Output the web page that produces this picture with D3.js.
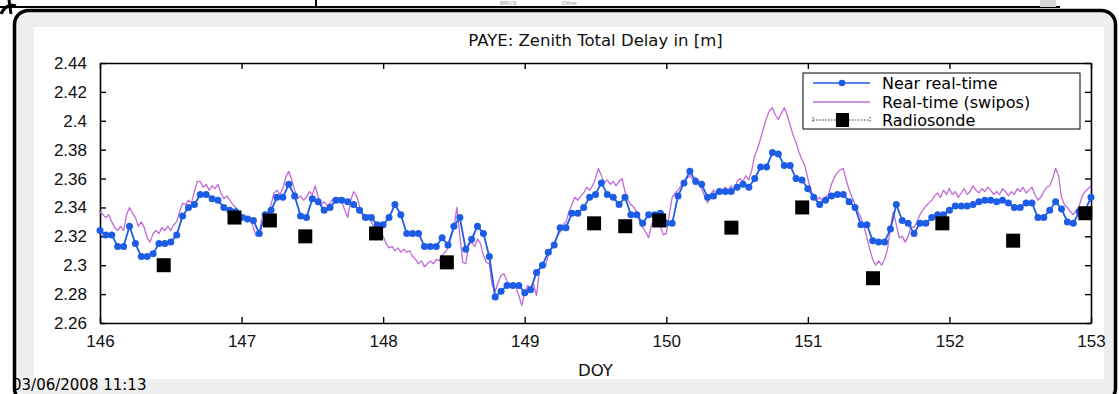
<!DOCTYPE html>
<html>
<head>
<meta charset="utf-8">
<script src="https://cdn.jsdelivr.net/npm/d3@7"></script>
<style>
	body { margin: 0; background: #fff; }
	svg { display: block; }
</style>
</head>
<body>
<svg id="chart" width="1119" height="394"></svg>
<script>
// hourly near real-time ZTD, starting at DOY 146.0
const nrtStart = 146
const nrtStep = 1 / 24
const nrtValues = [
	2.324, 2.321, 2.321, 2.313, 2.313, 2.327, 2.315, 2.306, 2.306, 2.308, 2.315, 2.315, 2.316, 2.321, 2.334, 2.340, 2.342, 2.349, 2.349, 2.346, 2.345, 2.340, 2.338, 2.337,
	2.333, 2.332, 2.331, 2.322, 2.335, 2.338, 2.347, 2.347, 2.356, 2.348, 2.334, 2.333, 2.346, 2.344, 2.338, 2.340, 2.345, 2.345, 2.344, 2.342, 2.338, 2.333, 2.333, 2.328,
	2.328, 2.333, 2.342, 2.335, 2.322, 2.322, 2.322, 2.313, 2.313, 2.313, 2.319, 2.314, 2.327, 2.333, 2.311, 2.318, 2.327, 2.322, 2.306, 2.278, 2.282, 2.286, 2.286, 2.286,
	2.281, 2.283, 2.295, 2.300, 2.309, 2.314, 2.326, 2.326, 2.336, 2.336, 2.340, 2.347, 2.349, 2.357, 2.349, 2.347, 2.342, 2.347, 2.335, 2.335, 2.329, 2.335, 2.335, 2.336,
	2.329, 2.329, 2.348, 2.357, 2.365, 2.358, 2.356, 2.347, 2.348, 2.351, 2.351, 2.351, 2.354, 2.356, 2.354, 2.360, 2.368, 2.368, 2.378, 2.377, 2.369, 2.369, 2.360, 2.359,
	2.353, 2.347, 2.342, 2.345, 2.348, 2.349, 2.349, 2.344, 2.340, 2.328, 2.328, 2.317, 2.316, 2.316, 2.325, 2.342, 2.331, 2.329, 2.322, 2.329, 2.329, 2.333, 2.335, 2.335,
	2.338, 2.341, 2.341, 2.341, 2.342, 2.344, 2.345, 2.345, 2.344, 2.345, 2.343, 2.340, 2.340, 2.343, 2.343, 2.333, 2.333, 2.338, 2.344, 2.339, 2.330, 2.329, 2.337, 2.338,
	2.347
]

// half-hourly real-time (swipos) ZTD
const rtStart = 146
const rtStep = 1 / 48
const rtValues = [
	2.337, 2.335, 2.333, 2.335, 2.330, 2.326, 2.324, 2.327, 2.324, 2.335, 2.340, 2.336, 2.333, 2.327, 2.330, 2.326, 2.319, 2.316, 2.322, 2.324, 2.322, 2.326, 2.324, 2.327,
	2.324, 2.328, 2.330, 2.337, 2.343, 2.342, 2.345, 2.343, 2.351, 2.358, 2.358, 2.354, 2.356, 2.352, 2.355, 2.353, 2.356, 2.350, 2.346, 2.348, 2.345, 2.342, 2.340, 2.337,
	2.333, 2.335, 2.331, 2.333, 2.326, 2.320, 2.323, 2.333, 2.337, 2.335, 2.342, 2.350, 2.352, 2.349, 2.353, 2.361, 2.365, 2.359, 2.352, 2.346, 2.348, 2.345, 2.347, 2.351,
	2.349, 2.355, 2.347, 2.342, 2.344, 2.341, 2.343, 2.346, 2.344, 2.347, 2.344, 2.338, 2.333, 2.345, 2.351, 2.348, 2.341, 2.335, 2.333, 2.335, 2.330, 2.326, 2.322, 2.323,
	2.320, 2.315, 2.312, 2.313, 2.310, 2.312, 2.309, 2.311, 2.309, 2.310, 2.306, 2.304, 2.301, 2.303, 2.299, 2.301, 2.303, 2.301, 2.304, 2.303, 2.307, 2.309, 2.312, 2.319,
	2.326, 2.340, 2.321, 2.302, 2.301, 2.314, 2.316, 2.313, 2.318, 2.315, 2.307, 2.302, 2.301, 2.286, 2.282, 2.288, 2.293, 2.294, 2.289, 2.285, 2.288, 2.285, 2.279, 2.272,
	2.281, 2.286, 2.284, 2.287, 2.279, 2.297, 2.300, 2.299, 2.307, 2.311, 2.315, 2.320, 2.323, 2.328, 2.330, 2.337, 2.342, 2.347, 2.345, 2.348, 2.350, 2.354, 2.352, 2.355,
	2.360, 2.367, 2.362, 2.357, 2.359, 2.356, 2.358, 2.355, 2.358, 2.360, 2.351, 2.345, 2.342, 2.340, 2.337, 2.330, 2.326, 2.323, 2.319, 2.328, 2.333, 2.331, 2.327, 2.321,
	2.322, 2.335, 2.347, 2.350, 2.352, 2.355, 2.358, 2.360, 2.362, 2.359, 2.361, 2.357, 2.353, 2.348, 2.343, 2.349, 2.352, 2.350, 2.353, 2.351, 2.354, 2.352, 2.355, 2.352,
	2.358, 2.360, 2.358, 2.362, 2.359, 2.366, 2.376, 2.381, 2.388, 2.395, 2.402, 2.407, 2.409, 2.404, 2.401, 2.405, 2.409, 2.404, 2.397, 2.390, 2.385, 2.378, 2.373, 2.369,
	2.360, 2.352, 2.348, 2.345, 2.347, 2.344, 2.347, 2.349, 2.356, 2.361, 2.364, 2.366, 2.367, 2.359, 2.352, 2.347, 2.342, 2.337, 2.333, 2.327, 2.319, 2.311, 2.304, 2.300,
	2.303, 2.300, 2.304, 2.311, 2.326, 2.337, 2.328, 2.319, 2.320, 2.316, 2.320, 2.327, 2.326, 2.330, 2.335, 2.338, 2.341, 2.343, 2.345, 2.348, 2.350, 2.347, 2.352, 2.349,
	2.353, 2.349, 2.351, 2.347, 2.350, 2.353, 2.349, 2.351, 2.355, 2.352, 2.350, 2.353, 2.351, 2.354, 2.352, 2.349, 2.351, 2.349, 2.353, 2.351, 2.348, 2.351, 2.349, 2.353,
	2.351, 2.354, 2.350, 2.352, 2.354, 2.349, 2.345, 2.347, 2.351, 2.354, 2.355, 2.360, 2.367, 2.362, 2.347, 2.342, 2.340, 2.337, 2.335, 2.338, 2.341, 2.348, 2.351, 2.353,
	2.355
]

const sondeDoy = [146.45, 146.95, 147.2, 147.45, 147.95, 148.45, 149.49, 149.71, 149.95, 150.46, 150.96, 151.46, 151.95, 152.45, 152.96]
const sondeValues = [2.300, 2.333, 2.331, 2.320, 2.322, 2.302, 2.329, 2.327, 2.331, 2.326, 2.340, 2.291, 2.329, 2.317, 2.336]

const xTicks = [146, 147, 148, 149, 150, 151, 152, 153]
const yTicks = [2.26, 2.28, 2.3, 2.32, 2.34, 2.36, 2.38, 2.4, 2.42, 2.44]
const legendLabels = ['Near real-time', 'Real-time (swipos)', 'Radiosonde']

const blue = '#1d5de6'
const violet = '#c26ad8'
const tickFont = '"Liberation Sans", Arial, sans-serif'
const textFont = '"DejaVu Sans", Verdana, sans-serif'

const svg = d3.select('#chart')
const margin = { left: 100, right: 28, top: 63, bottom: 71 }
const width = 1119
const height = 394

const xScale = d3.scaleLinear().domain([146, 153]).range([margin.left, width - margin.right])
const yScale = d3.scaleLinear().domain([2.26, 2.44]).range([height - margin.bottom, margin.top])

// window decoration (screenshot frame)
svg.append('line').attr('x1', 0).attr('x2', 1060).attr('y1', 7).attr('y2', 7).attr('stroke', '#000').attr('stroke-width', 2)
svg.append('line').attr('x1', 316).attr('x2', 316).attr('y1', 0).attr('y2', 7).attr('stroke', '#000').attr('stroke-width', 2)
svg.append('rect').attr('x', 1040).attr('y', 0).attr('width', 16).attr('height', 7).attr('fill', '#d8d8d8')
svg.append('text').attr('x', 500).attr('y', 5).attr('font-size', 6).attr('fill', '#999').attr('font-family', tickFont).text('BRUS')
svg.append('text').attr('x', 562).attr('y', 5).attr('font-size', 6).attr('fill', '#999').attr('font-family', tickFont).text('Other')
svg.append('path').attr('d', 'M1,14 Q6,3 16,6 M9,0 L11,14').attr('fill', 'none').attr('stroke', '#000').attr('stroke-width', 3)

svg.append('rect')
	.attr('x', 14.5).attr('y', 10.5)
	.attr('width', 1101).attr('height', 392)
	.attr('rx', 14)
	.attr('fill', '#efefef')
	.attr('stroke', '#000')
	.attr('stroke-width', 3.5)
svg.append('rect').attr('x', 34).attr('y', 27).attr('width', 1070).attr('height', 352).attr('fill', '#fff')

const plot = svg.append('g')

// axes, ticks pointing inward on all four sides
const styleAxis = g => {
	g.select('.domain').attr('stroke', '#000').attr('stroke-width', 1.6)
	g.selectAll('.tick line').attr('stroke', '#000').attr('stroke-width', 1.4)
	g.selectAll('.tick text').attr('fill', '#111').style('font-family', tickFont).style('font-size', '17px')
}

plot.append('g')
	.attr('transform', `translate(0, ${yScale(2.26)})`)
	.call(d3.axisBottom(xScale).tickValues(xTicks).tickFormat(d3.format('d')).tickSize(-6).tickSizeOuter(0).tickPadding(12))
	.call(styleAxis)
plot.append('g')
	.attr('transform', `translate(0, ${yScale(2.44)})`)
	.call(d3.axisTop(xScale).tickValues(xTicks).tickFormat('').tickSize(-6).tickSizeOuter(0))
	.call(styleAxis)
plot.append('g')
	.attr('transform', `translate(${xScale(146)}, 0)`)
	.call(d3.axisLeft(yScale).tickValues(yTicks).tickFormat(d => String(+d.toFixed(2))).tickSize(-6).tickSizeOuter(0).tickPadding(13))
	.call(styleAxis)
plot.append('g')
	.attr('transform', `translate(${xScale(153)}, 0)`)
	.call(d3.axisRight(yScale).tickValues(yTicks).tickFormat('').tickSize(-6).tickSizeOuter(0))
	.call(styleAxis)

// series
const rtData = rtValues.map((v, i) => ({ doy: rtStart + i * rtStep, v }))
const nrtData = nrtValues.map((v, i) => ({ doy: nrtStart + i * nrtStep, v }))
const sondeData = sondeDoy.map((d, i) => ({ doy: d, v: sondeValues[i] }))

const line = d3.line().x(d => xScale(d.doy)).y(d => yScale(d.v))

plot.append('path')
	.datum(rtData)
	.attr('d', line)
	.attr('fill', 'none')
	.attr('stroke', violet)
	.attr('stroke-width', 1.3)
	.attr('stroke-linejoin', 'round')

plot.append('path')
	.datum(nrtData)
	.attr('d', line)
	.attr('fill', 'none')
	.attr('stroke', blue)
	.attr('stroke-width', 1.8)

plot.selectAll('.nrt-dot')
	.data(nrtData)
	.join('circle')
	.attr('class', 'nrt-dot')
	.attr('cx', d => xScale(d.doy))
	.attr('cy', d => yScale(d.v))
	.attr('r', 3.5)
	.attr('fill', blue)

const sq = 14
plot.selectAll('.sonde')
	.data(sondeData)
	.join('rect')
	.attr('class', 'sonde')
	.attr('x', d => xScale(d.doy) - sq / 2)
	.attr('y', d => yScale(d.v) - sq / 2)
	.attr('width', sq)
	.attr('height', sq)
	.attr('fill', '#000')

// legend
const legend = svg.append('g').attr('transform', 'translate(803, 73)')
legend.append('rect').attr('width', 277).attr('height', 56).attr('fill', '#fff').attr('stroke', '#000').attr('stroke-width', 1)
const rowY = [10, 29, 47]
legend.selectAll('.lbl')
	.data(legendLabels)
	.join('text')
	.attr('class', 'lbl')
	.attr('x', 79)
	.attr('y', (d, i) => rowY[i] + 6)
	.style('font-family', textFont)
	.style('font-size', '16px')
	.attr('fill', '#000')
	.text(d => d)

legend.append('line').attr('x1', 10).attr('x2', 67).attr('y1', rowY[0]).attr('y2', rowY[0]).attr('stroke', blue).attr('stroke-width', 1.4)
legend.append('circle').attr('cx', 39).attr('cy', rowY[0]).attr('r', 3.3).attr('fill', blue)
legend.append('line').attr('x1', 10).attr('x2', 67).attr('y1', rowY[1]).attr('y2', rowY[1]).attr('stroke', violet).attr('stroke-width', 1.3)
legend.append('line').attr('x1', 10).attr('x2', 67).attr('y1', rowY[2]).attr('y2', rowY[2]).attr('stroke', '#333').attr('stroke-width', 1).attr('stroke-dasharray', '1.5,1.5')
legend.append('path').attr('d', `M10,${rowY[2] - 3}V${rowY[2] + 3}M67,${rowY[2] - 3}V${rowY[2] + 3}`).attr('stroke', '#333').attr('stroke-width', 1).attr('stroke-dasharray', '1.5,1.5')
legend.append('rect').attr('x', 33).attr('y', rowY[2] - 7).attr('width', 13).attr('height', 14).attr('fill', '#000')

// titles
svg.append('text')
	.attr('x', (xScale(146) + xScale(153)) / 2)
	.attr('y', 46)
	.attr('text-anchor', 'middle')
	.style('font-family', textFont)
	.style('font-size', '16.5px')
	.attr('fill', '#111')
	.text('PAYE: Zenith Total Delay in [m]')

svg.append('text')
	.attr('x', (xScale(146) + xScale(153)) / 2)
	.attr('y', 376)
	.attr('text-anchor', 'middle')
	.style('font-family', textFont)
	.style('font-size', '16.5px')
	.attr('fill', '#111')
	.text('DOY')

svg.append('text')
	.attr('x', 12)
	.attr('y', 390)
	.style('font-family', textFont)
	.style('font-size', '15px')
	.attr('fill', '#000')
	.text('03/06/2008 11:13')
</script>
</body>
</html>
